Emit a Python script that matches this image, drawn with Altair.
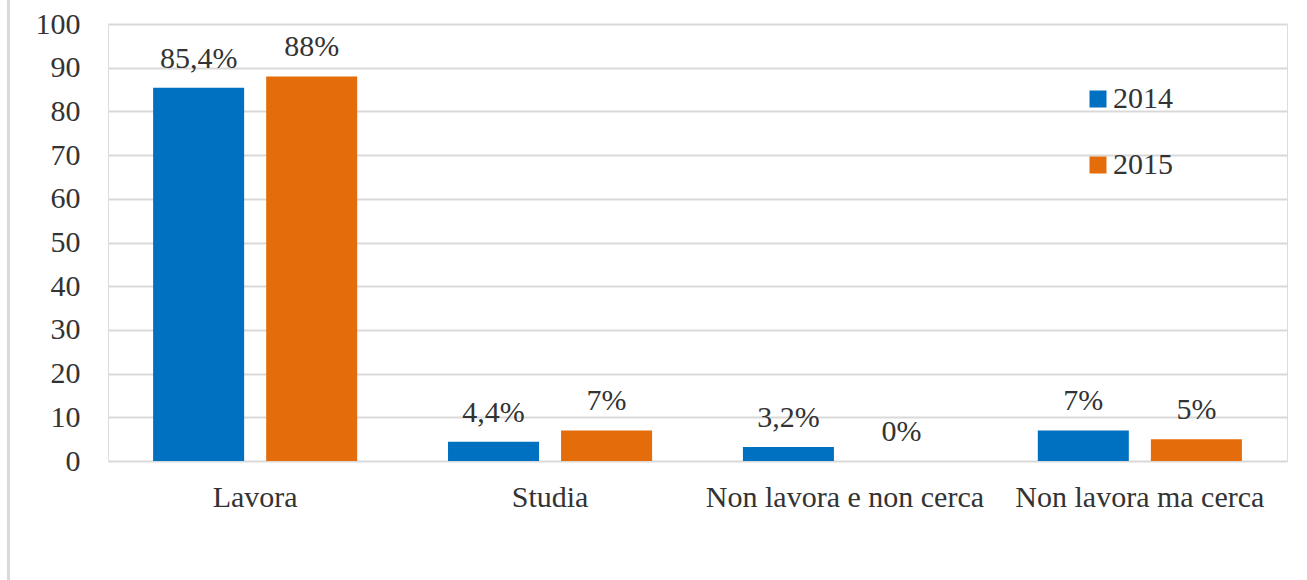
import altair as alt
import pandas as pd

categories = ["Lavora", "Studia", "Non lavora e non cerca", "Non lavora ma cerca"]
years = ["2014", "2015"]
values_2014 = [85.4, 4.4, 3.2, 7]
values_2015 = [88, 7, 0, 5]
labels_2014 = ["85,4%", "4,4%", "3,2%", "7%"]
labels_2015 = ["88%", "7%", "0%", "5%"]
y_ticks = [0, 10, 20, 30, 40, 50, 60, 70, 80, 90, 100]

rows = []
for i, c in enumerate(categories):
    rows.append({"cat": c, "year": "2014", "v": values_2014[i], "lab": labels_2014[i]})
    rows.append({"cat": c, "year": "2015", "v": values_2015[i], "lab": labels_2015[i]})
df = pd.DataFrame(rows)

FONT = "Liberation Serif"
TXT = "#333333"
FS = 30

x = alt.X("cat:N", sort=categories, title=None,
          scale=alt.Scale(paddingInner=0.308, paddingOuter=0.153),
          axis=alt.Axis(labelAngle=0, labelFontSize=FS, labelFont=FONT, labelColor=TXT,
                        labelLimit=0, ticks=False, domain=False, labelPadding=21, grid=False))
xo = alt.XOffset("year:N", sort=years, scale=alt.Scale(paddingInner=0.195, paddingOuter=0))
y = alt.Y("v:Q", title=None,
          scale=alt.Scale(domain=[0, 100], nice=False),
          axis=alt.Axis(values=y_ticks, labelFontSize=FS, labelFont=FONT, labelColor=TXT,
                        ticks=False, domain=False, labelPadding=28,
                        gridColor="#d9d9d9", gridWidth=2))
color = alt.Color("year:N", sort=years,
                  scale=alt.Scale(domain=years, range=["#0070C0", "#E46C0A"]),
                  legend=alt.Legend(title=None, orient="none", legendX=975, legendY=60,
                                    symbolType="square", symbolSize=289, symbolStrokeWidth=0,
                                    labelFontSize=FS, labelFont=FONT, labelColor=TXT,
                                    labelOffset=0, rowPadding=36))

bars = alt.Chart(df).mark_bar().encode(x=x, xOffset=xo, y=y, color=color)
text = alt.Chart(df).mark_text(baseline="alphabetic", dy=-20, fontSize=FS, font=FONT,
                               color=TXT).encode(x=x, xOffset=xo, y=y, text="lab:N")
frame = alt.Chart(df).mark_rule(color="#d9d9d9", strokeWidth=2, clip=False).encode(
    x=alt.value(-99.5), y=alt.value(-24), y2=alt.value(560))

chart = alt.layer(frame, bars, text).properties(
    width=1179, height=437,
    autosize=alt.AutoSizeParams(type="none"),
    padding={"left": 108, "top": 24, "right": 20, "bottom": 119},
).configure_view(stroke=None).configure(background="white")

chart.save("out.html", embed_options={"renderer": "svg", "actions": False})
